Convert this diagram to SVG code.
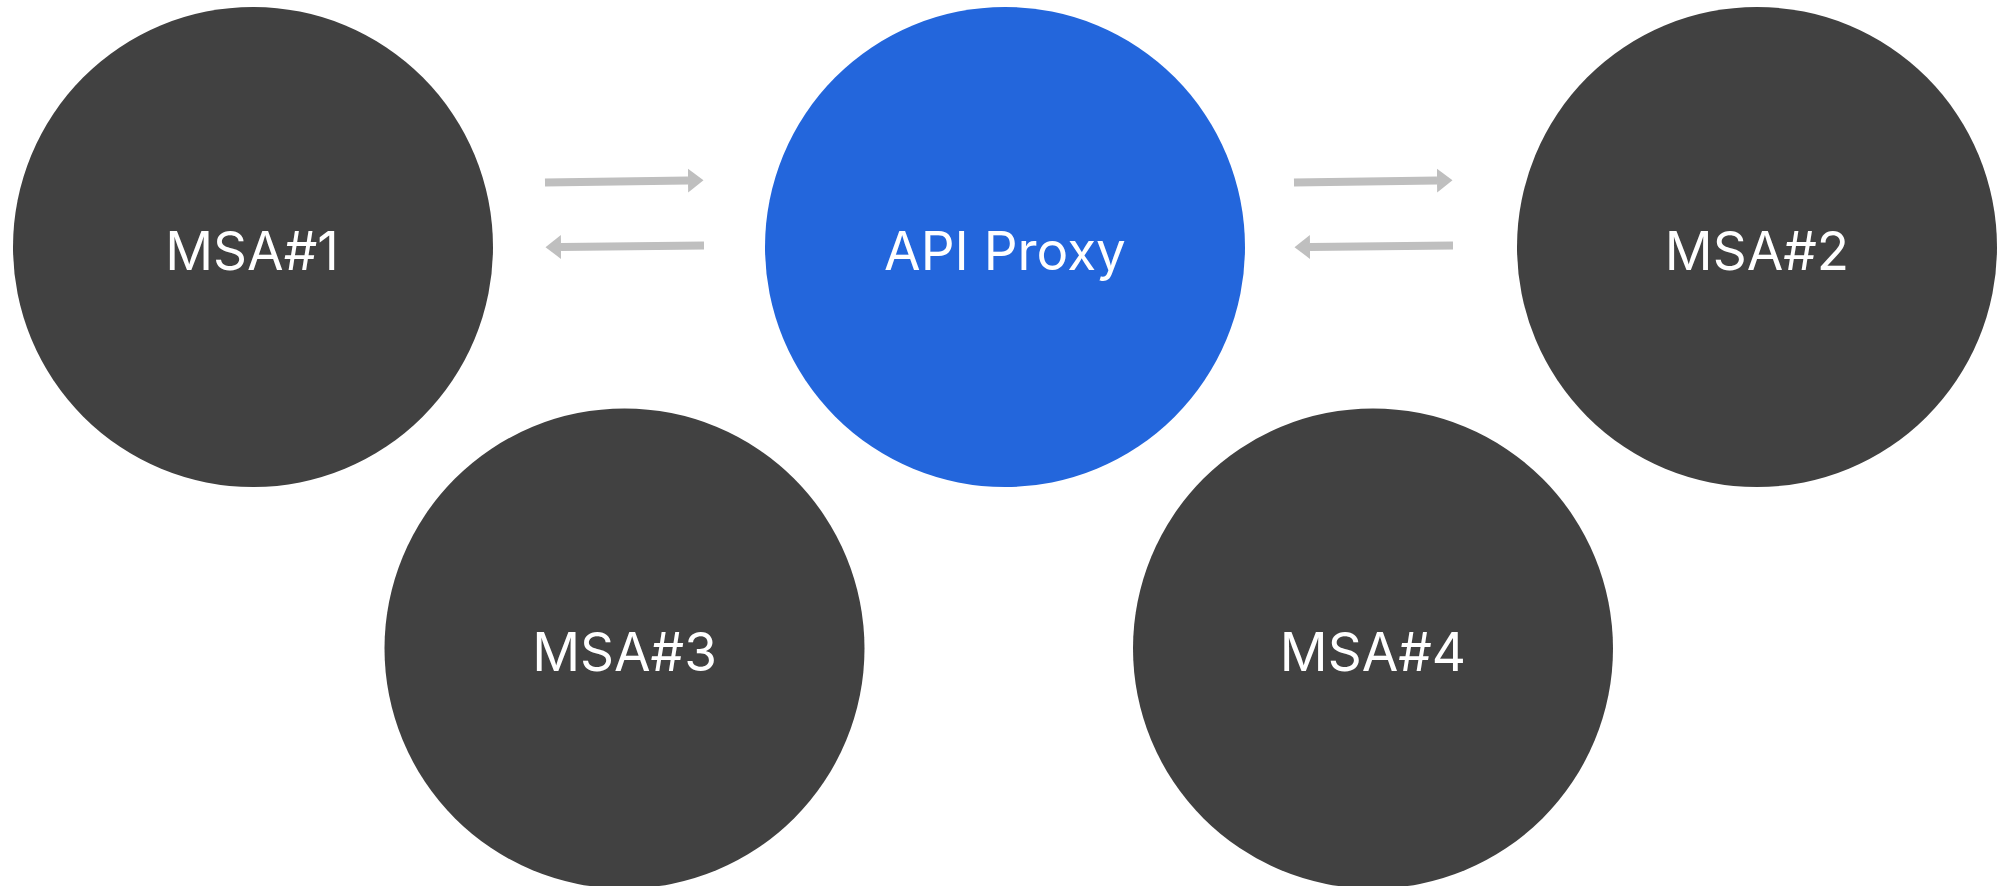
<svg xmlns="http://www.w3.org/2000/svg" width="1997" height="886" viewBox="0 0 1997 886">
<style>
.dark{fill:#414141}
.blue{fill:#2366dc}
.lbl{font-family:Inter,"Liberation Sans",sans-serif;font-size:53px;fill:#ffffff;text-anchor:middle}
.conn{stroke:#bfbfbf;stroke-width:8;fill:none}
</style>
<defs>
<marker id="ah" markerUnits="userSpaceOnUse" markerWidth="16" markerHeight="26" refX="0" refY="12" orient="auto" viewBox="0 0 16 24">
<path d="M0,0 L15.5,12 L0,24 z" fill="#bfbfbf"/>
</marker>
</defs>
<rect width="1997" height="886" fill="#ffffff"/>
<g id="connectors">
<path class="conn" d="M545,182.5 L688,180.5" marker-end="url(#ah)"/>
<path class="conn" d="M704,245.5 L561,247" marker-end="url(#ah)"/>
<path class="conn" d="M1294,182.5 L1437,180.5" marker-end="url(#ah)"/>
<path class="conn" d="M1453,245.5 L1310,247" marker-end="url(#ah)"/>
</g>
<g id="msa1">
<circle class="dark" cx="253" cy="247" r="240"/>
<text class="lbl" x="252" y="270">MSA#1</text>
</g>
<g id="api-proxy">
<circle class="blue" cx="1005" cy="247" r="240"/>
<text class="lbl" x="1005" y="270">API Proxy</text>
</g>
<g id="msa2">
<circle class="dark" cx="1757" cy="247" r="240"/>
<text class="lbl" x="1757" y="270">MSA#2</text>
</g>
<g id="msa3">
<circle class="dark" cx="624.5" cy="648.5" r="240"/>
<text class="lbl" x="624.5" y="671">MSA#3</text>
</g>
<g id="msa4">
<circle class="dark" cx="1373" cy="648.5" r="240"/>
<text class="lbl" x="1373" y="671">MSA#4</text>
</g>
</svg>
